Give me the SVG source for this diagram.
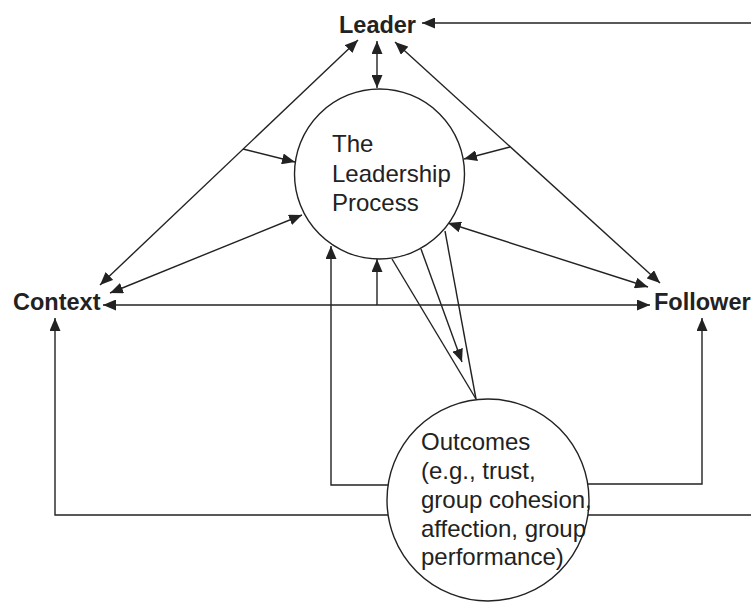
<svg xmlns="http://www.w3.org/2000/svg" width="751" height="603" viewBox="0 0 751 603">
  <style>
    .line { fill: none; stroke: #222; stroke-width: 1.4; }
    .node { fill: #fff; stroke: #222; stroke-width: 1.4; }
    .label { font-family: "Liberation Sans", Arial, sans-serif; font-size: 23.5px; font-weight: bold; fill: #222; }
    .body { font-family: "Liberation Sans", Arial, sans-serif; font-size: 24px; fill: #222; }
  </style>
  <defs>
    <marker id="arrow" markerUnits="userSpaceOnUse" markerWidth="13" markerHeight="11" refX="13" refY="5.5" orient="auto-start-reverse">
      <path d="M0,0 L13,5.5 L0,11 z" fill="#222"/>
    </marker>
  </defs>

  <g id="connectors">
    <!-- leader / process -->
    <line class="line" x1="377" y1="41" x2="377" y2="88" marker-start="url(#arrow)" marker-end="url(#arrow)"/>
    <!-- leader / context and leader / follower diagonals -->
    <line class="line" x1="358" y1="40" x2="100" y2="285" marker-start="url(#arrow)" marker-end="url(#arrow)"/>
    <line class="line" x1="395" y1="42" x2="660" y2="283" marker-start="url(#arrow)" marker-end="url(#arrow)"/>
    <!-- moderating arrows from diagonals into process -->
    <line class="line" x1="243" y1="149" x2="295" y2="162" marker-end="url(#arrow)"/>
    <line class="line" x1="510" y1="147" x2="464" y2="159" marker-end="url(#arrow)"/>
    <!-- context / process and follower / process -->
    <line class="line" x1="110" y1="293" x2="302" y2="215" marker-start="url(#arrow)" marker-end="url(#arrow)"/>
    <line class="line" x1="648" y1="287" x2="448" y2="223" marker-start="url(#arrow)" marker-end="url(#arrow)"/>
    <!-- context / follower -->
    <line class="line" x1="103" y1="305" x2="650" y2="305" marker-start="url(#arrow)" marker-end="url(#arrow)"/>
    <line class="line" x1="377" y1="305" x2="377" y2="259" marker-end="url(#arrow)"/>
    <!-- process to outcomes -->
    <line class="line" x1="392" y1="259" x2="476" y2="399"/>
    <line class="line" x1="445" y1="231" x2="476" y2="399"/>
    <line class="line" x1="421" y1="249" x2="462" y2="362" marker-end="url(#arrow)"/>
    <!-- feedback from outcomes -->
    <polyline class="line" points="389,485 331,485 331,246" marker-end="url(#arrow)"/>
    <polyline class="line" points="388,515 55,515 55,318" marker-end="url(#arrow)"/>
    <polyline class="line" points="588,484 702,484 702,318" marker-end="url(#arrow)"/>
    <line class="line" x1="588" y1="515" x2="751" y2="515"/>
    <line class="line" x1="751" y1="23" x2="422" y2="23" marker-end="url(#arrow)"/>
  </g>

  <g id="leader">
    <text class="label" x="377.5" y="33" text-anchor="middle">Leader</text>
  </g>
  <g id="context">
    <text class="label" x="13" y="310">Context</text>
  </g>
  <g id="follower">
    <text class="label" x="654" y="310">Follower</text>
  </g>
  <g id="process">
    <circle class="node" cx="379.5" cy="174" r="85"/>
    <text class="body" x="332" y="152">The</text>
    <text class="body" x="332" y="182">Leadership</text>
    <text class="body" x="332" y="211">Process</text>
  </g>
  <g id="outcomes">
    <circle class="node" cx="488" cy="500" r="101"/>
    <text class="body" x="421" y="450">Outcomes</text>
    <text class="body" x="421" y="479">(e.g., trust,</text>
    <text class="body" x="421" y="508">group cohesion,</text>
    <text class="body" x="421" y="537">affection, group</text>
    <text class="body" x="421" y="565">performance)</text>
  </g>
</svg>
